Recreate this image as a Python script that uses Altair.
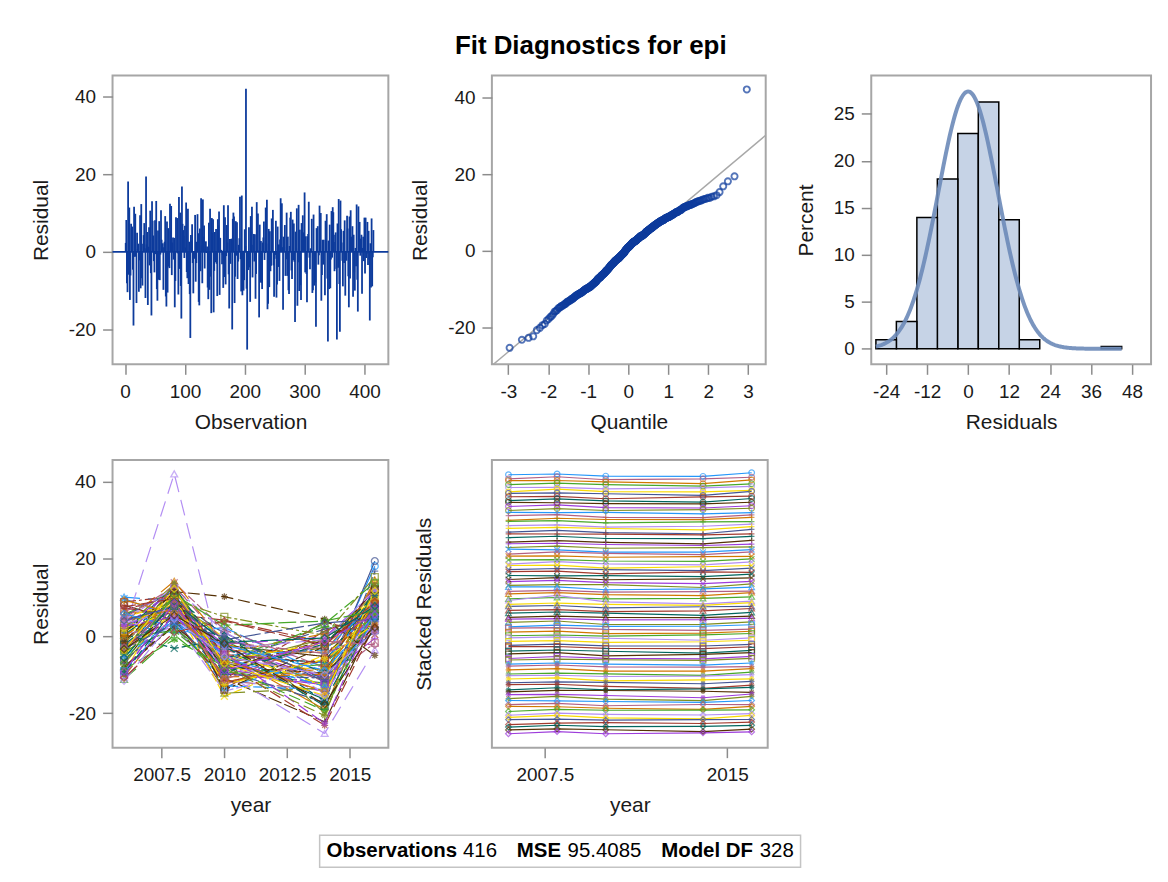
import altair as alt
import pandas as pd

# ---------------- data (residuals by unit, one list per year) ----------------
years = [2006, 2008, 2010, 2014, 2016]

res_2006 = [
    2.3, -5.9, 6.1, -1.3, 0.7, -9.4, 4.3, 1.9, -3.5, 8.0,
    -0.6, -7.2, 3.1, 2.6, -10.5, 5.5, -2.0, 0.1, -4.4, 7.2,
    1.1, -8.3, 2.9, -1.8, 9.7, -5.0, 3.9, -0.3, -9.8, 4.9,
    -2.7, 6.8, 0.5, -6.5, 2.4, -3.1, 10.1, -1.0, 3.5, -11.2,
    1.5, -4.7, 5.2, -2.5, 0.3, -7.9, 3.7, 2.1, -9.1, 6.4,
    -0.8, -3.9, 4.1, 1.3, -6.2, 8.8, -2.2, 0.9, -10.1, 2.7,
    -5.3, 4.6, -0.1, -8.7, 3.3, 1.7, -3.3, 7.6, -9.6, -1.5,
    2.5, -4.1, 5.8, -2.9, 9.3, -6.9, -11.6, -3.7, 4.0, -10.8,
    -5.6, -3.4, -9.2]

res_2008 = [
    8.2, 11.4, 6.5, 9.8, 2.1, 12.3, 7.4, 5.1, 10.6, 4.2,
    13.1, 7.9, 0.8, 9.2, 6.1, 11.8, 3.6, 8.7, 10.1, 5.6,
    12.7, 2.6, 7.1, 9.5, 4.8, 13.8, 6.8, 1.4, 11.1, 8.4,
    5.9, 10.4, -3.2, 8.9, 12.0, 3.3, 9.1, 7.6, 14.2, 0.3,
    42.0, 6.3, 11.6, 4.5, 9.9, 2.8, 7.8, 13.4, 5.3, 10.8,
    8.0, 1.9, 12.5, 6.9, 3.9, 10.3, 7.3, 11.2, 5.7, 9.4,
    4.0, 12.9, 8.5, -0.9, 6.6, 10.0, 3.1, 9.7, 7.0, 11.5,
    5.0, 13.6, 2.4, 8.1, 6.0, 10.7, 4.4, 12.2, 7.7, 1.0,
    8.8, 5.4, 8.6]

res_2010 = [
    -8.1, -12.4, -4.6, -1.2, -10.3, -6.8, 0.9, -13.7, -5.5, -2.4,
    -9.6, -7.3, 2.2, -11.5, -3.8, -6.0, -14.3, -0.4, -8.8, 4.1,
    -5.2, -10.9, -2.9, -7.7, -12.9, 1.6, -4.3, -9.2, -6.4, -15.6,
    -3.1, -11.1, -0.8, -8.4, -5.8, 3.4, -13.2, -7.0, -1.9, -10.0,
    -9.5, -4.0, -6.6, -12.1, 0.3, -8.0, -2.1, -14.8, -5.0, -3.5,
    -11.8, -7.5, 1.2, -6.2, -9.9, -4.8, -2.6, -13.9, -8.6, 5.0,
    -5.7, -1.5, -10.6, -7.9, -3.3, -12.6, -0.1, -6.9, -9.4, 10.2,
    -4.4, -8.3, -2.3, -11.3, -6.3, 2.8, -5.3, -7.2, -1.0, 3.9,
    -1.6, -2.0, -8.9]

res_2014 = [
    -10.4, -6.1, -19.0, -13.2, -2.2, -8.7, -11.9, 1.3, -16.4, -5.3,
    -12.6, -0.7, -9.8, -14.1, -4.2, 2.4, -7.5, -11.0, -17.2, -1.6,
    -6.8, -22.2, -10.7, -2.9, -13.8, -8.1, 0.6, -12.2, -15.8, -4.9,
    -11.4, 3.6, -9.3, -1.1, -14.6, -20.0, -6.4, -2.5, -10.2, -7.3,
    -25.2, -12.9, 1.8, -5.7, -16.9, -9.6, -0.3, -13.4, -3.6, -11.6,
    -8.4, 3.2, -14.9, -1.9, -10.9, -7.0, -18.1, -2.7, -12.4, 0.2,
    -13.0, -4.5, -9.9, -19.3, -0.9, -6.0, -11.2, -23.1, -2.0, 4.4,
    -22.6, -20.6, -8.9, -1.3, -14.3, 3.9, -10.0, -15.4, 3.4, -2.4,
    -0.5, -17.7, -1.4]

res_2016 = [
    18.1, 7.2, 11.6, 4.9, 9.4, 2.1, 19.4, 6.3, 13.0, 8.1,
    5.5, 10.7, 1.2, 7.8, 12.4, 3.7, 8.9, 14.1, 16.8, 6.7,
    11.1, 4.3, -0.6, 2.6, 6.0, 13.5, 2.7, 7.5, 8.7, 5.1,
    8.4, 0.4, 12.0, 6.9, 3.3, 8.5, 7.9, 1.8, 14.5, 5.8,
    -3.6, 9.2, 4.6, 12.8, 7.0, 2.4, 11.4, 5.9, 8.6, -1.8,
    6.5, 13.8, 3.9, 10.1, 1.5, 8.3, 5.2, 12.1, 7.4, 15.3,
    4.0, 0.9, 9.6, 6.1, 11.9, 3.1, 8.0, 2.9, 10.5, -5.0,
    7.3, 13.2, 5.4, -2.3, 9.1, 6.6, 1.0, 11.7, 4.4, 8.8,
    7.7, 2.2, 5.6]

obs_ticks = [0, 100, 200, 300, 400]
resid_ticks = [-20, 0, 20, 40]
quant_ticks = [-3, -2, -1, 0, 1, 2, 3]
hist_x_ticks = [-24, -12, 0, 12, 24, 36, 48]
pct_ticks = [0, 5, 10, 15, 20, 25]
year_ticks = [2007.5, 2010, 2012.5, 2015]
stack_year_ticks = [2007.5, 2015]
ref_q = [-3.6, 3.6]

title_text = "Fit Diagnostics for epi"
footer_labels = ["Observations", "MSE", "Model DF"]
footer_values = ["416", "95.4085", "328"]

# ---------------- table ----------------
series = [res_2006, res_2008, res_2010, res_2014, res_2016]
n_units = len(res_2006)
rows = []
for u in range(n_units):
    for yr, s in zip(years, series):
        rows.append({"obs": len(rows) + 1, "unit": u, "year": yr, "resid": s[u]})
df = pd.DataFrame(rows)
mu = float(df["resid"].mean())
sd = float(df["resid"].std())

# ---------------- styles ----------------
FONT = "Liberation Sans"
BLUE = "#0d3b9c"
LBL = "'' + datum.value"   # plain hyphen minus sign, as in the reference
sas_colors = ["#445694", "#A23A2E", "#01665E", "#543005", "#9D3CDB", "#7F8E1F",
              "#2597FA", "#B26084", "#D17800", "#47A82A", "#B38EF3", "#F9DA04"]
color_range = sas_colors[6:] + sas_colors[:6]
shapes = ["circle", "M-1,0L1,0M0,-1L0,1", "M-1,-1L1,1M-1,1L1,-1", "triangle-up",
          "square", "M-1,0L1,0M0,-1L0,1M-0.7,-0.7L0.7,0.7M-0.7,0.7L0.7,-0.7", "diamond"]
dashes = [[1, 0], [14, 3], [9, 3], [16, 8], [12, 3, 3, 3], [12, 5], [18, 4]]
blocks = list(range(7))

one = pd.DataFrame({"k": [0]})
noview = alt.ViewBackground(stroke="transparent")


def ax(title, values, **kw):
    return alt.Axis(title=title, values=values, labelExpr=LBL, **kw)


# ---------------- panel 1: residual by observation ----------------
xs1 = alt.Scale(domain=[-21, 440], nice=False, zero=False)
ys_res = alt.Scale(domain=[-29, 45.4], nice=False, zero=False)
zero_line = alt.Chart(one).mark_rule(color=BLUE, strokeWidth=1.8).encode(y=alt.datum(0))
needles = alt.Chart(df).mark_rule(color=BLUE, strokeWidth=1.8).encode(
    x=alt.X("obs:Q", scale=xs1, axis=ax("Observation", obs_ticks)),
    y=alt.Y("resid:Q", scale=ys_res, axis=ax("Residual", resid_ticks)),
    y2=alt.datum(0),
)
p1 = alt.layer(zero_line, needles).properties(width=277, height=290)

# ---------------- panel 2: QQ plot ----------------
xs2 = alt.Scale(domain=[-3.41, 3.44], nice=False, zero=False)
ys2 = alt.Scale(domain=[-29.5, 45.6], nice=False, zero=False)
qx = alt.X("q:Q", scale=xs2, axis=ax("Quantile", quant_ticks))
refline = alt.Chart(pd.DataFrame({"q": ref_q})).transform_calculate(
    r=f"{mu} + {sd} * datum.q"
).mark_line(color="#a8a8a8", strokeWidth=1.5, clip=True).encode(
    x=qx, y=alt.Y("r:Q", scale=ys2, axis=ax("Residual", resid_ticks))
)
qq = alt.Chart(df).transform_window(
    rank="row_number()", sort=[alt.SortField("resid", order="ascending")]
).transform_joinaggregate(n="count()").transform_calculate(
    q="quantileNormal((datum.rank - 0.375) / (datum.n + 0.25))"
).mark_point(shape="circle", filled=False, color=BLUE, size=38, strokeWidth=1.9).encode(
    x=qx, y=alt.Y("resid:Q", scale=ys2, axis=ax("Residual", resid_ticks))
)
p2 = alt.layer(refline, qq).properties(width=275, height=290)

# ---------------- panel 3: histogram ----------------
xs3 = alt.Scale(domain=[-28.36, 53.6], nice=False, zero=False)
ys3 = alt.Scale(domain=[-1.66, 29.06], nice=False, zero=False)
hx_axis = ax("Residuals", hist_x_ticks)
hy_axis = ax("Percent", pct_ticks)
bars = alt.Chart(df).transform_bin(
    as_=["b0", "b1"], field="resid", bin=alt.Bin(step=6, anchor=-27, extent=[-27, 45], nice=False)
).transform_aggregate(cnt="count()", groupby=["b0", "b1"]).transform_joinaggregate(
    total="sum(cnt)"
).transform_calculate(pct="100 * datum.cnt / datum.total").mark_bar(
    fill="#c6d3e6", stroke="black", strokeWidth=1.5
).encode(
    x=alt.X("b0:Q", scale=xs3, axis=hx_axis),
    x2="b1:Q",
    y=alt.Y("pct:Q", scale=ys3, axis=hy_axis),
    y2=alt.datum(0),
)
curve = alt.Chart(alt.sequence(-27, 45.01, 0.25, as_="x")).transform_calculate(
    pct=f"600 * densityNormal(datum.x, {mu}, {sd})"
).mark_line(color="#6b89b8", strokeWidth=4, opacity=0.9).encode(
    x=alt.X("x:Q", scale=xs3, axis=hx_axis),
    y=alt.Y("pct:Q", scale=ys3, axis=hy_axis),
)
p3 = alt.layer(bars, curve).properties(width=281, height=290)

# ---------------- panel 4: residual by year ----------------
base = alt.Chart(df).transform_calculate(block="floor(datum.unit / 12)")
xs4 = alt.X("year:Q", scale=alt.Scale(domain=[2005.54, 2016.54], nice=False, zero=False),
            axis=ax("year", year_ticks))
ys4 = alt.Y("resid:Q", scale=alt.Scale(domain=[-28.9, 45.6], nice=False, zero=False),
            axis=ax("Residual", resid_ticks))
col = alt.Color("unit:O", scale=alt.Scale(range=color_range), legend=None)
dash = alt.StrokeDash("block:O", scale=alt.Scale(domain=blocks, range=dashes), legend=None)
shp = alt.Shape("block:O", scale=alt.Scale(domain=blocks, range=shapes), legend=None)
lines4 = base.mark_line(strokeWidth=1.2, clip=True).encode(x=xs4, y=ys4, color=col, strokeDash=dash)
pts4 = base.mark_point(filled=False, size=48, strokeWidth=1.3, clip=True).encode(
    x=xs4, y=ys4, color=col, shape=shp)
p4 = alt.layer(lines4, pts4).properties(width=277, height=289)

# ---------------- panel 5: stacked residuals ----------------
base5 = base.transform_calculate(stack=f"({n_units - 1} - datum.unit) + 0.04 * datum.resid")
xs5 = alt.X("year:Q", scale=alt.Scale(domain=[2005.32, 2016.66], nice=False, zero=False),
            axis=ax("year", stack_year_ticks))
ys5 = alt.Y("stack:Q", scale=alt.Scale(domain=[-4.8, n_units + 3.8], nice=False, zero=False),
            axis=alt.Axis(labels=False, ticks=False, title="Stacked Residuals", titlePadding=58))
lines5 = base5.mark_line(strokeWidth=1.2, clip=True).encode(x=xs5, y=ys5, color=col, detail="unit:O")
pts5 = base5.mark_point(filled=False, size=32, strokeWidth=1.2, clip=True).encode(
    x=xs5, y=ys5, color=col, shape=shp)
p5 = alt.layer(lines5, pts5).properties(width=277, height=289)

# ---------------- footer (drawn inside the first column's cell) ----------------
FOOT_LEFT = 208
box = alt.Chart(one).mark_rect(fill="white", stroke="#c4c4c4", strokeWidth=1.5).encode(
    x=alt.value(FOOT_LEFT), x2=alt.value(FOOT_LEFT + 483), y=alt.value(-8), y2=alt.value(24))
label_x = [7, 198, 343]
value_x = [144, 249, 442]
texts = []
for lab, val, lx, vx in zip(footer_labels, footer_values, label_x, value_x):
    texts.append(alt.Chart(one).mark_text(align="left", baseline="alphabetic", font=FONT,
                                          fontSize=20.5, fontWeight="bold", color="black")
                 .encode(x=alt.value(FOOT_LEFT + lx), y=alt.value(14), text=alt.value(lab)))
    texts.append(alt.Chart(one).mark_text(align="left", baseline="alphabetic", font=FONT,
                                          fontSize=20.5, color="black")
                 .encode(x=alt.value(FOOT_LEFT + vx), y=alt.value(14), text=alt.value(val)))
footer = alt.layer(box, *texts).properties(width=277, height=32, view=noview)

blank = alt.Chart(one).mark_text(text="").encode(x=alt.value(0), y=alt.value(0)).properties(
    width=10, height=10, view=noview)

chart = alt.concat(
    p1, p2, p3, p4, p5, blank, footer,
    columns=3, spacing={"row": 96, "column": 104}, bounds="flush", align="each",
    title=alt.TitleParams(title_text, font=FONT, fontSize=26, fontWeight="bold",
                          color="black", anchor="middle", offset=16),
).properties(
    padding={"left": 21, "top": 23, "right": 8, "bottom": 8}, background="white"
).configure_axis(
    labelFont=FONT, titleFont=FONT, labelFontSize=19, titleFontSize=21,
    titleFontWeight="normal", labelColor="#1a1a1a", titleColor="#1a1a1a",
    tickColor="#8c8c8c", tickWidth=1.5, tickSize=10, domain=False, grid=False,
    labelOverlap=False, labelFlush=False,
).configure_axisX(labelPadding=8, titlePadding=10).configure_axisY(
    labelPadding=7, titlePadding=17
).configure_view(stroke="#a6a6a6", strokeWidth=2)

chart.save("out.html", embed_options={"renderer": "svg", "actions": False})
